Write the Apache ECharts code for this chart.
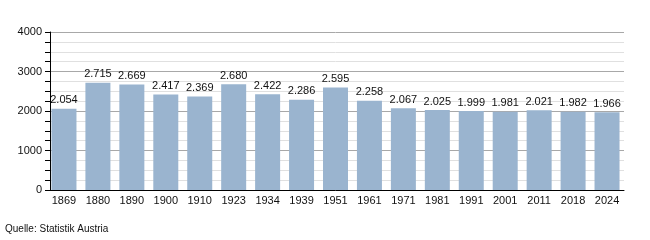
<!DOCTYPE html>
<html><head><meta charset="utf-8">
<script src="https://cdn.jsdelivr.net/npm/echarts@6/dist/echarts.min.js"></script>
<style>html,body{margin:0;padding:0;background:#fff}#c{width:650px;height:240px}</style>
</head><body><div id="c"></div>
<script>
const years = ['1869','1880','1890','1900','1910','1923','1934','1939','1951','1961','1971','1981','1991','2001','2011','2018','2024'];
const population = [2054,2715,2669,2417,2369,2680,2422,2286,2595,2258,2067,2025,1999,1981,2021,1982,1966];
const yTicks = [0,1000,2000,3000,4000];
const source = 'Quelle: Statistik Austria';

const fmt = v => { const s = String(v); return s.length > 3 ? s.slice(0, s.length-3) + '.' + s.slice(-3) : s; };
const font = 'Liberation Sans, Arial, sans-serif';
const chart = echarts.init(document.getElementById('c'), null, {renderer:'canvas'});
chart.setOption({
  animation:false,
  grid:{left:47, right:26, top:32, bottom:50},
  xAxis:{type:'category', data:years,
    axisLine:{lineStyle:{color:'#000', width:1}},
    axisTick:{show:false},
    axisLabel:{color:'#111', fontSize:11, fontFamily:font, margin:5, interval:0}
  },
  yAxis:{type:'value', min:yTicks[0], max:yTicks[yTicks.length-1], interval:1000, offset:-3,
    axisLine:{show:true, lineStyle:{color:'#000'}},
    axisTick:{show:true, length:5, lineStyle:{color:'#000'}},
    minorTick:{show:true, splitNumber:4, length:5, lineStyle:{color:'#000'}},
    splitLine:{show:true, lineStyle:{color:'#a8a8a8'}},
    minorSplitLine:{show:true, lineStyle:{color:'#e0e0e0'}},
    axisLabel:{color:'#111', fontSize:11, fontFamily:font, margin:8, formatter:v=>String(v)}
  },
  series:[{type:'bar', data:population, barWidth:25,
    itemStyle:{color:'#9ab4cf'},
    label:{show:true, position:'top', distance:3, color:'#111', fontSize:11, fontFamily:font,
      formatter:p=>fmt(p.value)}
  }],
  graphic:[{type:'text', left:5, top:224, style:{text:source, fontSize:10, fontFamily:font, fill:'#111'}}]
});
</script></body></html>
